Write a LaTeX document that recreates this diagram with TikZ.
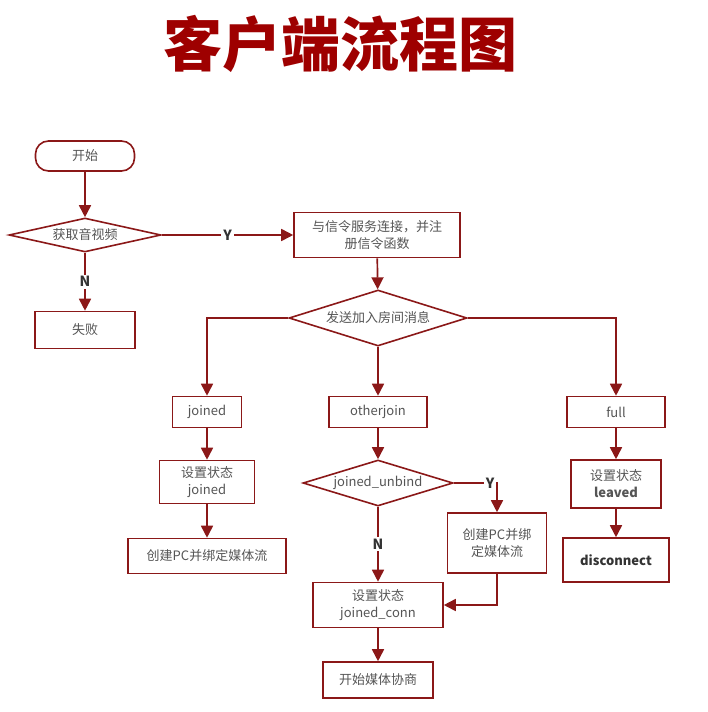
\documentclass[tikz,border=0pt]{standalone}
\usepackage{fontspec}
\setmainfont{Noto Sans CJK SC}
\usetikzlibrary{shapes.geometric,arrows.meta}
\definecolor{flowred}{RGB}{139,24,24}
\definecolor{titlered}{RGB}{158,0,0}
\definecolor{textgray}{RGB}{85,85,85}
\begin{document}
\begin{tikzpicture}[x=1pt,y=-1pt,
  line/.style={draw=flowred,line width=1.7pt},
  arr/.style={line,-{Triangle[length=12pt,width=12pt]}},
  box/.style={draw=flowred,line width=1.6pt,fill=white,text=textgray,align=center,inner sep=0pt,font=\fontsize{13}{17}\selectfont},
  dec/.style={box,diamond,aspect=4},
  yn/.style={fill=white,text=black!80,inner sep=2pt,font=\bfseries\fontsize{14}{14}\selectfont}]
\useasboundingbox (0,0) rectangle (708,712);
\node[text=titlered,font=\bfseries\fontsize{59}{62}\selectfont] (title) at (340,44) {客户端流程图};
\node[box,rounded corners=13pt,minimum width=99pt,minimum height=30pt] (start) at (85,156) {开始};
\node[dec,minimum width=152pt,minimum height=34pt] (media) at (85,235) {获取音视频};
\node[box,minimum width=100pt,minimum height=37pt] (fail) at (85,330) {失败};
\node[box,minimum width=166pt,minimum height=45pt] (signal) at (377,235) {与信令服务连接，并注\\册信令函数};
\node[dec,minimum width=178pt,minimum height=56pt] (join) at (378,318) {发送加入房间消息};
\node[box,minimum width=69pt,minimum height=31pt] (joined) at (207,412) {joined};
\node[box,minimum width=98pt,minimum height=31pt] (other) at (378,412) {otherjoin};
\node[box,minimum width=98pt,minimum height=31pt] (full) at (616,412) {full};
\node[box,minimum width=95pt,minimum height=43pt] (setj) at (207,482) {设置状态\\joined};
\node[box,minimum width=158pt,minimum height=35pt] (pcl) at (207,556) {创建PC并绑定媒体流};
\node[dec,aspect=3.2,minimum width=150pt,minimum height=46pt] (unbind) at (378,483) {joined\_unbind};
\node[box,minimum width=99pt,minimum height=60pt] (pcr) at (497,543) {创建PC并绑\\定媒体流};
\node[box,minimum width=130pt,minimum height=45pt] (setc) at (378,605) {设置状态\\joined\_conn};
\node[box,minimum width=110pt,minimum height=36pt] (nego) at (378,680) {开始媒体协商};
\node[box,minimum width=90pt,minimum height=48pt] (setl) at (616,484) {设置状态\\\textbf{leaved}};
\node[box,minimum width=106pt,minimum height=44pt,text=black!80,font=\bfseries\fontsize{13}{17}\selectfont] (disc) at (616,560) {disconnect};
\draw[arr] (start) -- (media);
\draw[arr] (media) -- node[yn] {Y} (signal);
\draw[arr] (media) -- node[yn] {N} (fail);
\draw[arr] (signal) -- (join);
\draw[arr] (join.west) -| (joined.north);
\draw[arr] (join) -- (other);
\draw[arr] (join.east) -| (full.north);
\draw[arr] (joined) -- (setj);
\draw[arr] (setj) -- (pcl);
\draw[arr] (other) -- (unbind);
\draw[arr] (unbind) -- node[yn] {N} (setc);
\draw[arr] (unbind.east) -| node[yn,pos=0.42] {Y} (pcr.north);
\draw[arr] (pcr.south) |- (setc.east);
\draw[arr] (setc) -- (nego);
\draw[arr] (full) -- (setl);
\draw[arr] (setl) -- (disc);
\end{tikzpicture}
\end{document}
